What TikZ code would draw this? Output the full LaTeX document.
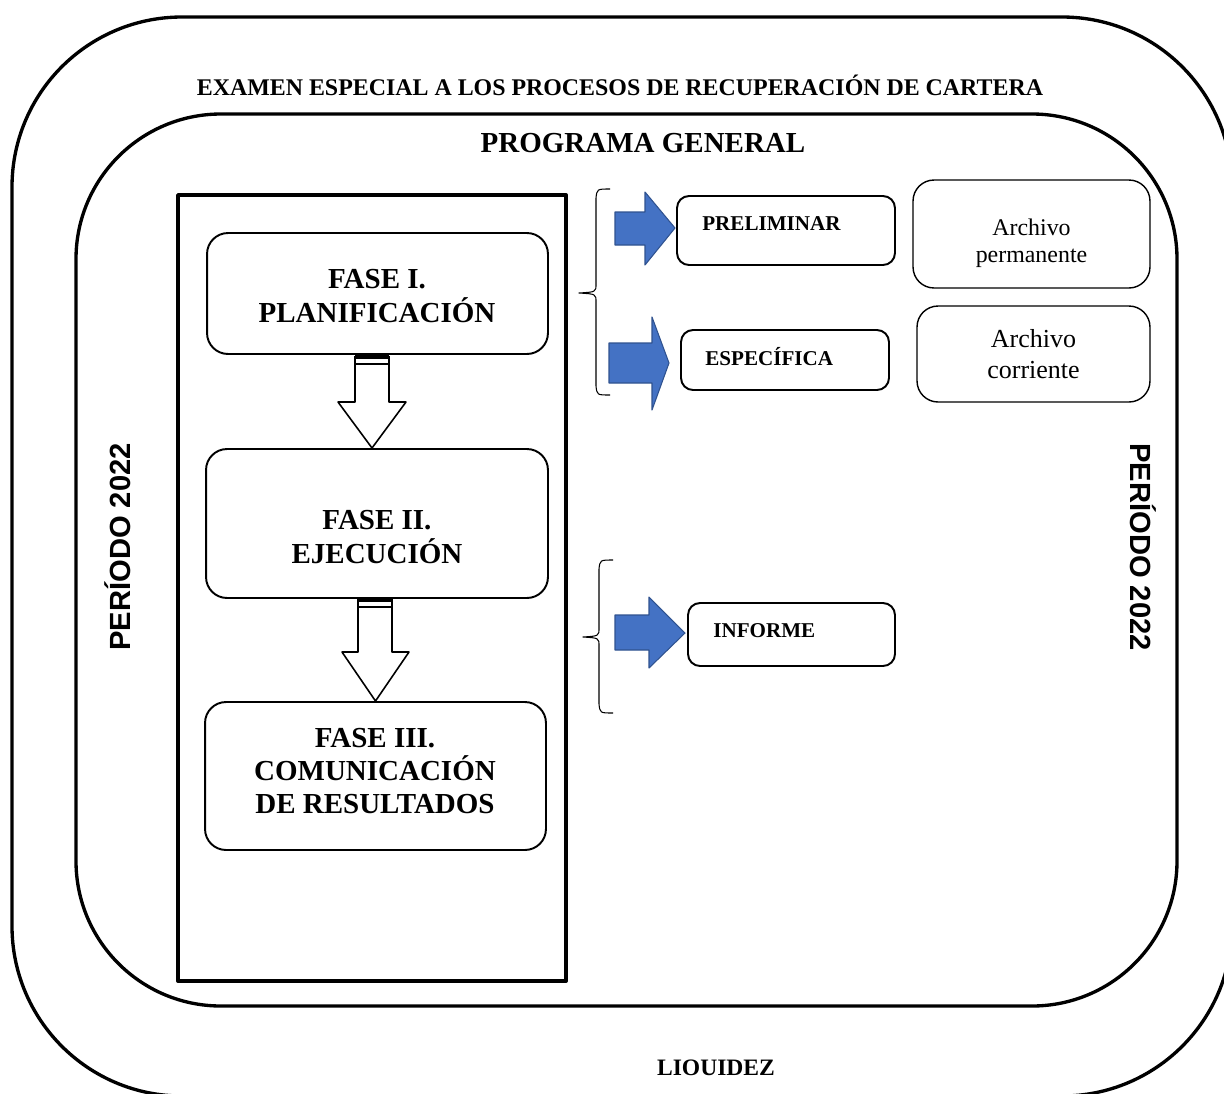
\documentclass[tikz,border=0pt]{standalone}
\usepackage{fontspec}
\setmainfont{Liberation Serif}
\newfontfamily\periodofont{Liberation Sans}
\definecolor{flecha}{HTML}{4472C4}
\definecolor{flechaborde}{HTML}{2F528F}
\newcommand\fsz[2]{\fontsize{#1}{#2}\selectfont}

\begin{document}
\begin{tikzpicture}[x=0.02cm,y=-0.02cm,line join=round]
	\useasboundingbox (0,0) rectangle (1224,1093);
	\tikzstyle{marco}=[line width=1.9pt]
	\tikzstyle{fase}=[draw,line width=1.1pt,rounded corners=0.42cm,inner sep=0pt]
	\tikzstyle{textofase}=[align=center,font=\bfseries\fsz{16.5}{18.9}]
	\tikzstyle{caja}=[draw,line width=1.1pt,rounded corners=0.24cm,inner sep=0pt]
	\tikzstyle{archivo}=[draw,line width=0.8pt,rounded corners=0.42cm,inner sep=0pt,align=center]
	\tikzstyle{etiqueta}=[anchor=west,inner sep=0pt,font=\bfseries\fsz{12}{14}]
	\tikzstyle{azul}=[fill=flecha,draw=flechaborde,line width=0.6pt]
	\tikzstyle{hueca}=[fill=white,draw=black,line width=0.9pt]
	\tikzstyle{periodo}=[font=\periodofont\bfseries\fsz{16.6}{19}]

	% marcos exteriores
	\draw[marco,rounded corners=3.4cm] (12,17) rectangle (1232,1096);
	\draw[marco,rounded corners=2.9cm] (76,114) rectangle (1177,1006);
	\draw[line width=2.2pt] (178,195) rectangle (566,981);

	\path (620,85)   node (titulo)   [font=\bfseries\fsz{13.6}{15}] {EXAMEN ESPECIAL A LOS PROCESOS DE RECUPERACIÓN DE CARTERA};
	\path (643,143)  node (programa) [font=\bfseries\fsz{16.5}{19}] {PROGRAMA GENERAL};
	\path (716,1068) node (liquidez) [font=\bfseries\fsz{13.4}{15}] {LIOUIDEZ};
	\path (118,547)  node (per1) [periodo,rotate=90]  {PERÍODO 2022};
	\path (1143,547) node (per2) [periodo,rotate=-90] {PERÍODO 2022};

	% fases
	\path (377.5,293.5) node (f1) [fase,minimum width=6.82cm,minimum height=2.42cm] {};
	\path (377,523.5)   node (f2) [fase,minimum width=6.84cm,minimum height=2.98cm] {};
	\path (375.5,776)   node (f3) [fase,minimum width=6.82cm,minimum height=2.96cm] {};
	\path (377,296)  node [textofase] {FASE I.\\PLANIFICACIÓN};
	\path (377,537)  node [textofase] {FASE II.\\EJECUCIÓN};
	\path (375,771)  node [textofase] {FASE III.\\COMUNICACIÓN\\DE RESULTADOS};

	\draw[hueca] (355,356) -- (355,402) -- (338,402) -- (372,448) -- (406,402) -- (389,402) -- (389,356);
	\draw[line width=2pt] (355,357) -- (389,357);
	\draw[line width=0.8pt] (355,364) -- (389,364);
	\draw[hueca] (358,599) -- (358,652) -- (342,652) -- (375.5,701) -- (409,652) -- (392,652) -- (392,599);
	\draw[line width=2pt] (358,600) -- (392,600);
	\draw[line width=0.8pt] (358,607) -- (392,607);

	% cajas de la derecha
	\path (786,230.5)  node (pre) [caja,minimum width=4.36cm,minimum height=1.38cm] {};
	\path (785,360)    node (esp) [caja,minimum width=4.16cm,minimum height=1.2cm] {};
	\path (791.5,634.5) node (inf) [caja,minimum width=4.14cm,minimum height=1.26cm] {};
	\path (702,224) node [etiqueta] {PRELIMINAR};
	\path (705,357) node [etiqueta] {ESPECÍFICA};
	\path (713,631) node [etiqueta] {INFORME};
	\path (1031.5,234) node (aper) [archivo,minimum width=4.74cm,minimum height=2.16cm] {};
	\path (1031.5,243) node [align=center,font=\fsz{13.6}{15.4}] {Archivo\\permanente};
	\path (1033.5,354) node (acor) [archivo,minimum width=4.66cm,minimum height=1.92cm,font=\fsz{14.8}{17.6}] {Archivo\\corriente};

	% flechas azules
	\draw[azul] (615,212) -- (645,212) -- (645,192) -- (675,228) -- (645,265) -- (645,245) -- (615,245) -- cycle;
	\draw[azul] (609,343) -- (652,343) -- (652,317) -- (669,363) -- (652,410) -- (652,383) -- (609,383) -- cycle;
	\draw[azul] (615,615) -- (649,615) -- (649,597) -- (685,633) -- (649,668) -- (649,650) -- (615,650) -- cycle;

	% llaves
	\draw[line width=0.6pt] (610,189) .. controls (597,189) .. (596,198) -- (596,284) .. controls (596,292) .. (579,293) .. controls (596,294) .. (596,302) -- (596,386) .. controls (597,395) .. (610,395);
	\draw[line width=0.6pt] (613,560) .. controls (600,560) .. (599,569) -- (599,628) .. controls (599,636) .. (583,637) .. controls (599,638) .. (599,646) -- (599,704) .. controls (600,713) .. (613,713);
\end{tikzpicture}
\end{document}
